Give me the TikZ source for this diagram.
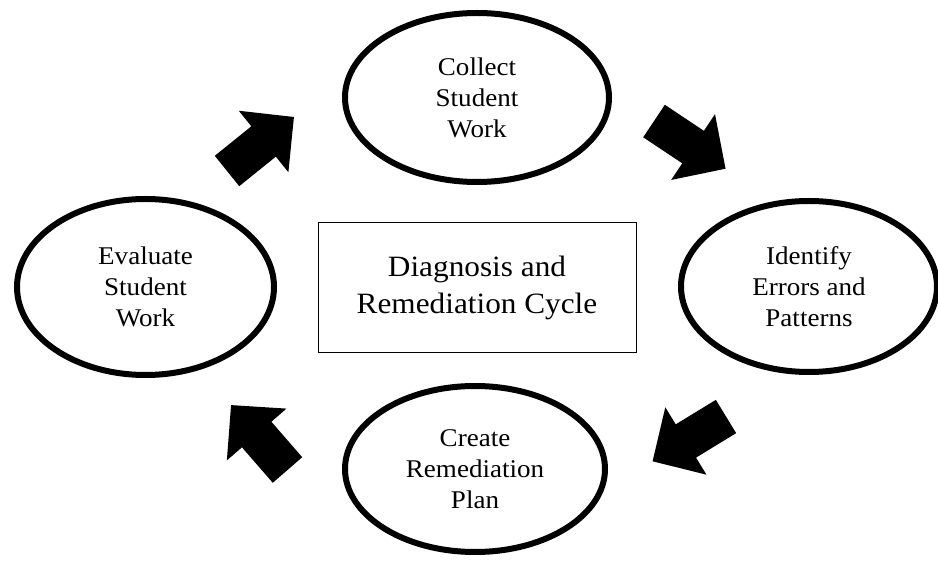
\documentclass[tikz,border=0pt]{standalone}
\usepackage{fontspec}
\setmainfont{Liberation Serif}[FakeStretch=1.06]
\usetikzlibrary{shapes.geometric}
\tikzset{
  stage/.style={ellipse, draw, line width=6pt, inner sep=0pt, align=center,
    font=\fontsize{25.5}{31}\selectfont},
  titlebox/.style={rectangle, draw, line width=1pt, inner sep=0pt, align=center,
    minimum width=318pt, minimum height=130pt, font=\fontsize{29.5}{37}\selectfont},
  blockarrow/.pic={\fill (0,-19.5) -- (47,-19.5) -- (47,-39.5) -- (86,0) -- (47,39.5) -- (47,19.5) -- (0,19.5) -- cycle;}
}
\begin{document}
\begin{tikzpicture}[x=1pt,y=-1pt]
\useasboundingbox (0,0) rectangle (938,561);
\node[stage, minimum width=264pt, minimum height=169pt] (collect) at (477,97.5) {Collect\\Student\\Work};
\node[stage, minimum width=256pt, minimum height=171pt] (identify) at (809,286.5) {Identify\\Errors and\\Patterns};
\node[stage, minimum width=260pt, minimum height=166pt] (create) at (475,469) {Create\\Remediation\\Plan};
\node[stage, minimum width=257pt, minimum height=176pt] (evaluate) at (145.5,287) {Evaluate\\Student\\Work};
\node[titlebox] (title) at (477,288) {Diagnosis and\\Remediation Cycle};
\pic[rotate=38.9] at (227,171) {blockarrow};
\pic[rotate=-33.7] at (654,121) {blockarrow};
\pic[rotate=211.4] at (726,416.5) {blockarrow};
\pic[rotate=131] at (287.5,470) {blockarrow};
\end{tikzpicture}
\end{document}
